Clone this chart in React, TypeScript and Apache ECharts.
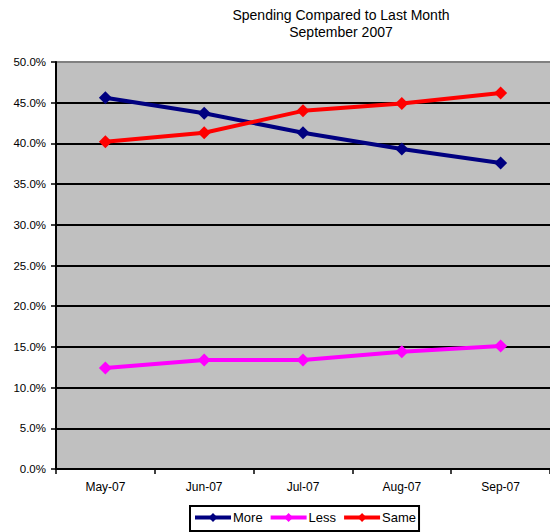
import React, { useEffect, useRef } from "react";
import * as echarts from "echarts";

const categories = ["May-07", "Jun-07", "Jul-07", "Aug-07", "Sep-07"];
const moreValues = [45.6, 43.7, 41.3, 39.3, 37.6];
const lessValues = [12.4, 13.4, 13.4, 14.4, 15.1];
const sameValues = [40.2, 41.3, 44.0, 44.9, 46.2];
const seriesNames = ["More", "Less", "Same"];
const seriesColors = ["#000080", "#FF00FF", "#FF0000"];
const titleLines = ["Spending Compared to Last Month", "September 2007"];

const FONT = "'Liberation Sans', Arial, Helvetica, sans-serif";

export default function App() {
  const ref = useRef<HTMLDivElement>(null);
  useEffect(() => {
    if (!ref.current) return;
    const chart = echarts.init(ref.current, null, { renderer: "svg" });
    const values = [moreValues, lessValues, sameValues];
    const splitColors = Array.from({ length: 11 }, (_, i) => (i === 10 ? "#808080" : "#000000"));
    chart.setOption({
      animation: false,
      backgroundColor: "#ffffff",
      title: {
        text: titleLines.join("\n"),
        left: 341,
        top: 6,
        padding: 0,
        textAlign: "center",
        textStyle: {
          fontFamily: FONT,
          fontSize: 14,
          fontWeight: "normal",
          color: "#000",
          lineHeight: 17,
        },
      },
      legend: {
        data: seriesNames,
        left: 190,
        top: 506,
        orient: "horizontal",
        itemWidth: 36,
        itemHeight: 11,
        itemGap: 6,
        padding: [5, 3, 7, 3],
        borderColor: "#000",
        borderWidth: 2,
        backgroundColor: "#fff",
        lineStyle: { width: 4 },
        textStyle: { fontFamily: FONT, fontSize: 13, color: "#000", padding: [0, 0, 0, -3] },
      },
      grid: {
        left: 56,
        top: 62,
        right: -7,
        bottom: 63,
        show: true,
        backgroundColor: "#C0C0C0",
        borderWidth: 0,
      },
      xAxis: {
        type: "category",
        data: categories,
        boundaryGap: true,
        axisLine: { show: true, lineStyle: { color: "#000", width: 2 } },
        axisTick: { show: true, alignWithLabel: false, length: 5, lineStyle: { color: "#000", width: 1.5 } },
        axisLabel: { fontFamily: FONT, fontSize: 12, color: "#000", margin: 12 },
        splitLine: { show: false },
      },
      yAxis: {
        type: "value",
        min: 0,
        max: 50,
        interval: 5,
        axisLine: { show: true, lineStyle: { color: "#000", width: 2 } },
        axisTick: { show: true, length: 5, lineStyle: { color: "#000", width: 1.5 } },
        axisLabel: {
          fontFamily: FONT,
          fontSize: 11.5,
          color: "#000",
          margin: 10,
          formatter: (v: number) => v.toFixed(1) + "%",
        },
        splitLine: { show: true, lineStyle: { color: splitColors, width: 2 } },
      },
      series: seriesNames.map((name, i) => ({
        name,
        type: "line",
        data: values[i],
        symbol: "diamond",
        symbolSize: 13,
        showSymbol: true,
        color: seriesColors[i],
        lineStyle: { color: seriesColors[i], width: 4 },
        itemStyle: { color: seriesColors[i] },
        emphasis: { disabled: true },
      })),
    });
    return () => chart.dispose();
  }, []);
  return <div ref={ref} style={{ width: 550, height: 532, position: "absolute", left: 0, top: 0 }} />;
}
